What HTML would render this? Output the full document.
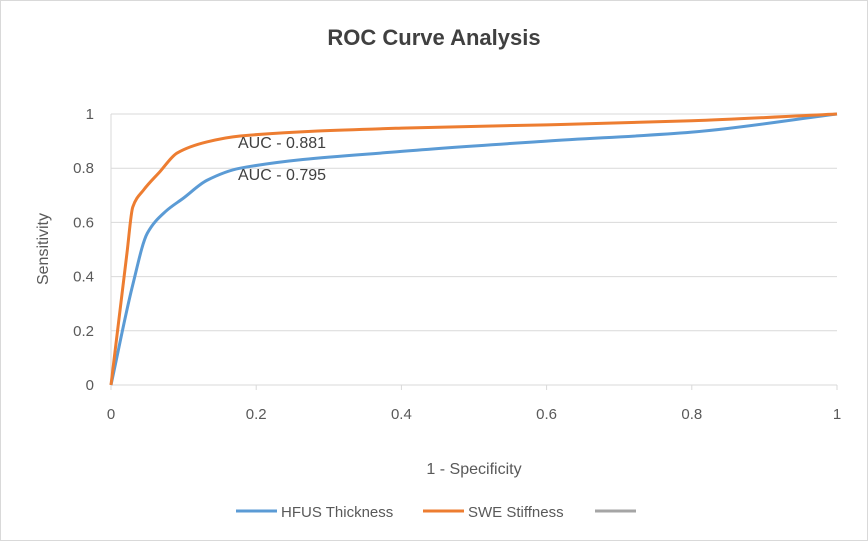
<!DOCTYPE html>
<html><head><meta charset="utf-8"><style>
body{margin:0;background:#fff}
svg{display:block;font-family:"Liberation Sans",sans-serif}
</style></head><body>
<svg id="chart" width="868" height="541" viewBox="0 0 868 541">
<rect x="0.5" y="0.5" width="867" height="540" fill="#fff" stroke="#d9d9d9"/>
<text x="434" y="45" text-anchor="middle" font-size="22" font-weight="bold" fill="#404040">ROC Curve Analysis</text>
<g id="grid"></g><g id="axes"></g><g id="series"></g>
<text x="238" y="148" font-size="16" fill="#404040">AUC - 0.881</text>
<text x="238" y="180" font-size="16" fill="#404040">AUC - 0.795</text>
<text x="474" y="474" text-anchor="middle" font-size="16" fill="#595959">1 - Specificity</text>
<text transform="translate(48,249) rotate(-90)" text-anchor="middle" font-size="16" fill="#595959">Sensitivity</text>
<g>
<line x1="236" y1="511" x2="277" y2="511" stroke="#5b9bd5" stroke-width="3"/>
<text x="281" y="517" font-size="15" fill="#595959">HFUS Thickness</text>
<line x1="423" y1="511" x2="464" y2="511" stroke="#ed7d31" stroke-width="3"/>
<text x="468" y="517" font-size="15" fill="#595959">SWE Stiffness</text>
<line x1="595" y1="511" x2="636" y2="511" stroke="#a5a5a5" stroke-width="3"/>
</g>
</svg>
<script>
const xTicks=[0,0.2,0.4,0.6,0.8,1];
const yTicks=[0,0.2,0.4,0.6,0.8,1];
const hfusX=[0,0.03,0.05,0.075,0.1,0.132,0.178,0.4,0.6,0.8,1];
const hfusY=[0,0.37,0.56,0.64,0.69,0.755,0.8,0.862,0.9,0.933,1];
const sweX=[0,0.022,0.03,0.045,0.067,0.091,0.132,0.178,0.4,0.6,0.8,1];
const sweY=[0,0.487,0.657,0.72,0.786,0.856,0.897,0.919,0.948,0.96,0.975,1];
const X0=111,X1=837,Y0=385,Y1=114;
const sx=v=>X0+v*(X1-X0), sy=v=>Y0-v*(Y0-Y1);
const NS="http://www.w3.org/2000/svg";
function mk(tag,attrs,parent){const e=document.createElementNS(NS,tag);for(const k in attrs)e.setAttribute(k,attrs[k]);parent.appendChild(e);return e;}
const grid=document.getElementById('grid'),axes=document.getElementById('axes'),series=document.getElementById('series');
yTicks.forEach(t=>{
  if(t>0){const l=mk('line',{x1:X0,x2:X1,y1:sy(t),y2:sy(t),stroke:'#d9d9d9'},grid);
  
  }
  const tx=mk('text',{x:X0-17,y:sy(t)+5,'text-anchor':'end','font-size':15,fill:'#595959'},axes);
  tx.textContent=t;
  
  
});
const ax=mk('line',{x1:X0,x2:X1,y1:Y0,y2:Y0,stroke:'#d9d9d9'},axes);


const ay=mk('line',{x1:X0,x2:X0,y1:Y0,y2:Y1,stroke:'#d9d9d9'},axes);


xTicks.forEach(t=>{
  const tk=mk('line',{x1:sx(t),x2:sx(t),y1:Y0,y2:Y0+5,stroke:'#d9d9d9'},axes);
  
  
  const tx=mk('text',{x:sx(t),y:Y0+34,'text-anchor':'middle','font-size':15,fill:'#595959'},axes);
  tx.textContent=t;
  
  
});
// monotone cubic (Fritsch-Carlson) in pixel space
function path(xs,ys){
  const P=xs.map((x,i)=>[sx(x),sy(ys[i])]);const n=P.length;
  const d=[],m=new Array(n);
  for(let i=0;i<n-1;i++)d.push((P[i+1][1]-P[i][1])/(P[i+1][0]-P[i][0]));
  m[0]=d[0];m[n-1]=d[n-2];
  for(let i=1;i<n-1;i++){
    if(d[i-1]*d[i]<=0)m[i]=0;
    else{const h0=P[i][0]-P[i-1][0],h1=P[i+1][0]-P[i][0];const w1=2*h1+h0,w2=h1+2*h0;m[i]=(w1+w2)/(w1/d[i-1]+w2/d[i]);}
  }
  let s='M'+P[0][0]+','+P[0][1];
  for(let i=0;i<n-1;i++){
    const h=(P[i+1][0]-P[i][0])/3;
    s+=` C${P[i][0]+h},${P[i][1]+m[i]*h} ${P[i+1][0]-h},${P[i+1][1]-m[i+1]*h} ${P[i+1][0]},${P[i+1][1]}`;
  }
  return s;
}
const h=mk('path',{d:path(hfusX,hfusY),fill:'none',stroke:'#5b9bd5','stroke-width':3,'stroke-linejoin':'round'},series);


const s=mk('path',{d:path(sweX,sweY),fill:'none',stroke:'#ed7d31','stroke-width':3,'stroke-linejoin':'round'},series);


</script>
</body></html>
